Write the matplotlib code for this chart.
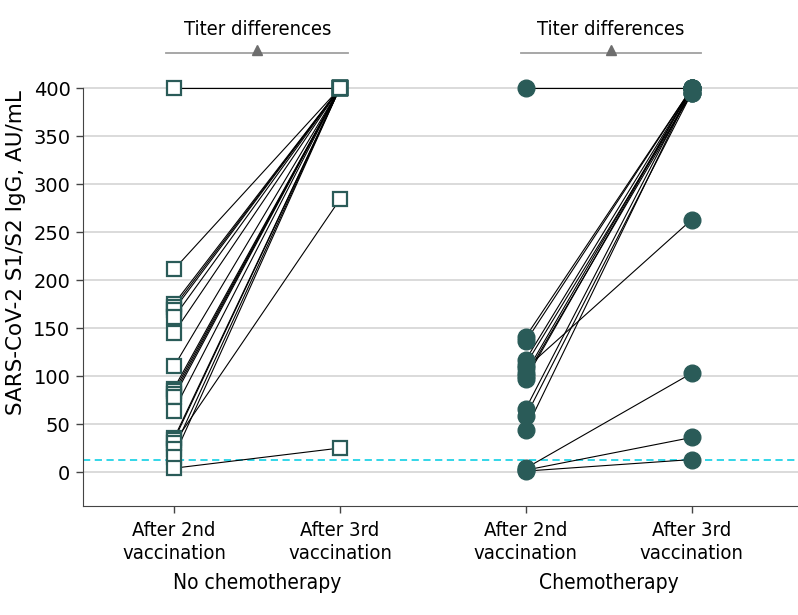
import matplotlib
matplotlib.use('Agg')
import matplotlib.pyplot as plt
from matplotlib import font_manager

# --- data ---
timepoints = ['After 2nd\nvaccination', 'After 3rd\nvaccination']
groups = ['No chemotherapy', 'Chemotherapy']

# no chemotherapy: titer after 2nd and after 3rd vaccination (paired)
nochemo_2nd = [400, 211, 175, 172, 169, 161, 145, 110, 87, 84, 81, 78, 64, 35, 33, 30, 24, 16, 4]
nochemo_3rd = [400, 400, 400, 400, 400, 400, 400, 400, 400, 400, 400, 400, 400, 400, 400, 284, 400, 400, 25]

# chemotherapy
chemo_2nd = [400, 141, 136, 117, 112, 108, 103, 100, 97, 66, 58, 44, 4, 2, 1]
chemo_3rd = [400, 400, 400, 400, 395, 263, 400, 395, 400, 400, 395, 400, 103, 36, 13]

cutoff = 13
yticks = [0, 50, 100, 150, 200, 250, 300, 350, 400]

# condensed font for the x labels and headers (DejaVu Sans Condensed if present)
cond = [f for f in font_manager.fontManager.ttflist
        if f.name == 'DejaVu Sans Condensed' or
        (f.name == 'DejaVu Sans' and str(f.stretch) == 'condensed')]
cond = [f for f in cond if f.weight in (400, 'normal') and f.style == 'normal']
if cond:
    fp_cond = font_manager.FontProperties(fname=cond[0].fname)
else:
    fp_cond = font_manager.FontProperties(family='DejaVu Sans')

teal = '#2a5b58'
pos_left = [1, 2]
pos_right = [3.12, 4.12]

fig = plt.figure(figsize=(7.98, 6.15), dpi=100)
ax = fig.add_axes([0.104, 0.1772, 0.896, 0.8228])

# grid and cutoff line
for y in yticks:
    ax.axhline(y, color='#d4d4d4', lw=1.2, zorder=0)
ax.axhline(cutoff, color='#22d3e6', lw=1.3, ls=(0, (4, 2.5)), zorder=1)

# paired lines
for a, b in zip(nochemo_2nd, nochemo_3rd):
    ax.plot(pos_left, [a, b], color='black', lw=0.8, zorder=2)
for a, b in zip(chemo_2nd, chemo_3rd):
    ax.plot(pos_right, [a, b], color='black', lw=0.8, zorder=2)

# markers
ax.plot([pos_left[0]] * len(nochemo_2nd), nochemo_2nd, 's', ms=9.5, mfc='white',
        mec=teal, mew=1.6, ls='none', zorder=3, clip_on=False)
ax.plot([pos_left[1]] * len(nochemo_3rd), nochemo_3rd, 's', ms=9.5, mfc='white',
        mec=teal, mew=1.6, ls='none', zorder=3, clip_on=False)
ax.plot([pos_right[0]] * len(chemo_2nd), chemo_2nd, 'o', ms=12, mfc=teal,
        mec=teal, ls='none', zorder=3, clip_on=False)
ax.plot([pos_right[1]] * len(chemo_3rd), chemo_3rd, 'o', ms=12, mfc=teal,
        mec=teal, ls='none', zorder=3, clip_on=False)

# "Titer differences" headers
for p, dl, dr in [(pos_left, 0.045, 0.05), (pos_right, 0.03, 0.055)]:
    x0, x1 = p[0] - dl, p[1] + dr
    ax.plot([x0, x1], [436.5, 436.5], color='#a0a0a0', lw=1.3, clip_on=False)
    xm = (x0 + x1) / 2
    ax.plot([xm], [440], marker='^', ms=7, color='#6e6e6e', clip_on=False)
    ax.text(xm, 461, 'Titer differences', ha='center', va='center',
            fontproperties=fp_cond, fontsize=14.5)

ax.set_xlim(0.452, 4.76)
ax.set_ylim(-35.4, 491.7)
ax.set_yticks(yticks)
ax.set_yticklabels([str(v) for v in yticks], fontsize=14)
ax.set_xticks(pos_left + pos_right)
ax.set_xticklabels(timepoints * 2, linespacing=1.25)
for lab in ax.get_xticklabels():
    lab.set_fontproperties(fp_cond)
    lab.set_fontsize(14.5)
ax.tick_params(axis='both', length=5, width=1, color='#444444', pad=4)
ax.tick_params(axis='x', pad=6)

for s in ['top', 'right']:
    ax.spines[s].set_visible(False)
ax.spines['left'].set_bounds(-35.4, 400)
ax.spines['left'].set_color('#444444')
ax.spines['bottom'].set_color('#444444')

ax.set_ylabel('SARS-CoV-2 S1/S2 IgG, AU/mL', fontsize=15.5, labelpad=5)

# group labels below the tick labels
for p, g in [(pos_left, groups[0]), (pos_right, groups[1])]:
    xm = (p[0] + p[1]) / 2
    ax.annotate(g, xy=(xm, 0), xycoords=('data', 'axes fraction'),
                xytext=(0, -55.5), textcoords='offset points',
                ha='center', va='center', fontproperties=fp_cond, fontsize=15)

fig.savefig('out.png', dpi=100)
